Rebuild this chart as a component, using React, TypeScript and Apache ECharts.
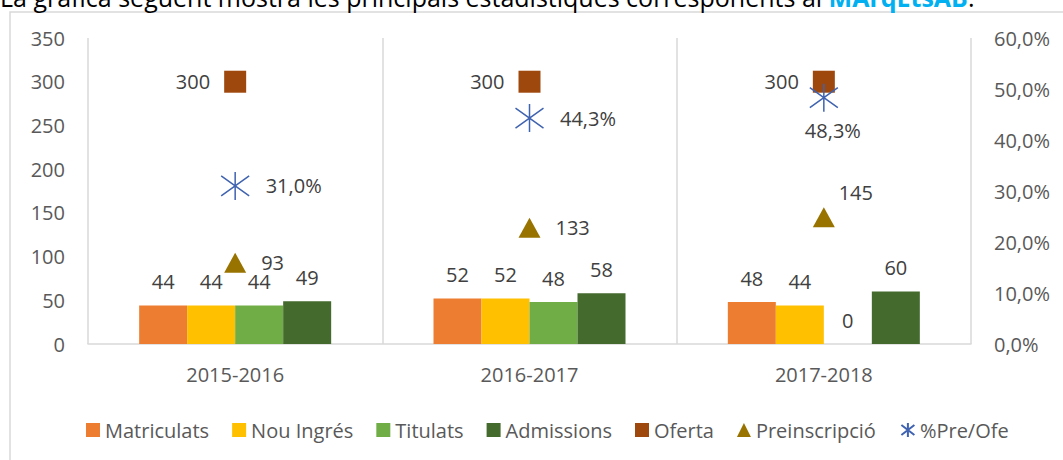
import React, { useEffect, useRef } from "react";
import * as echarts from "echarts";

const categories = ["2015-2016", "2016-2017", "2017-2018"];
const matriculats = [44, 52, 48];
const nouIngres = [44, 52, 44];
const titulats = [44, 48, 0];
const admissions = [49, 58, 60];
const oferta = [300, 300, 300];
const preinscripcio = [93, 133, 145];
const preOfe = [0.31, 0.443, 0.483];
const leftTicks = { min: 0, max: 350, interval: 50 };
const rightTicks = { min: 0, max: 0.6, interval: 0.1 };

const FONT = "'Open Sans', 'Noto Sans', sans-serif";
const LABEL_COLOR = "#404040";
const AXIS_COLOR = "#595959";
const STAR = "path://M14,0L14,28M1,4L27,24M27,4L1,24";

const pct = (v: number) => (v * 100).toFixed(1).replace(".", ",") + "%";

export default function App() {
  const ref = useRef<HTMLDivElement>(null);
  useEffect(() => {
    const chart = echarts.init(ref.current!, undefined, { renderer: "svg" });
    const barLabel = {
      show: true,
      position: "top",
      distance: 14,
      color: LABEL_COLOR,
      fontSize: 20,
      fontFamily: FONT,
    };
    const bar = (name: string, data: number[], color: string) => ({
      name,
      type: "bar",
      data,
      barWidth: 48,
      barGap: "0%",
      itemStyle: { color },
      label: barLabel,
    });
    chart.setOption({
      animation: false,
      backgroundColor: "#ffffff",
      textStyle: { fontFamily: FONT },
      graphic: [
        {
          type: "rect",
          shape: { x: 10, y: 12, width: 1070, height: 470 },
          style: { fill: "none", stroke: "#d9d9d9", lineWidth: 1.5 },
          silent: true,
        },
        {
          type: "text",
          left: 0,
          top: -16,
          style: {
            text: "{a|La gràfica següent mostra les principals estadístiques corresponents al }{b|MArqEtsAB}{a|.}",
            rich: {
              a: { fontSize: 25, fontFamily: FONT, fill: "#000000" },
              b: { fontSize: 25, fontFamily: FONT, fill: "#00B0F0", fontWeight: "bold" },
            },
          },
        },
      ],
      grid: { left: 88, right: 92, top: 38, bottom: 116, containLabel: false },
      legend: {
        left: 81,
        top: 415,
        itemWidth: 14,
        itemHeight: 14,
        itemGap: 23,
        textStyle: { color: AXIS_COLOR, fontSize: 20, fontFamily: FONT },
        data: [
          { name: "Matriculats", icon: "rect" },
          { name: "Nou Ingrés", icon: "rect" },
          { name: "Titulats", icon: "rect" },
          { name: "Admissions", icon: "rect" },
          { name: "Oferta", icon: "rect" },
          { name: "Preinscripció", icon: "triangle" },
          { name: "%Pre/Ofe" },
        ],
      },
      xAxis: {
        type: "category",
        data: categories,
        axisTick: { show: false },
        axisLine: { lineStyle: { color: "#d9d9d9", width: 1.5 } },
        axisLabel: { color: AXIS_COLOR, fontSize: 20, fontFamily: FONT, margin: 20 },
        splitLine: { show: true, lineStyle: { color: "#d9d9d9", width: 1.5 } },
      },
      yAxis: [
        {
          type: "value",
          ...leftTicks,
          axisLine: { show: false },
          axisTick: { show: false },
          splitLine: { show: false },
          axisLabel: { color: AXIS_COLOR, fontSize: 20, fontFamily: FONT, margin: 23 },
        },
        {
          type: "value",
          ...rightTicks,
          position: "right",
          axisLine: { show: false },
          axisTick: { show: false },
          splitLine: { show: false },
          axisLabel: {
            color: AXIS_COLOR,
            fontSize: 20,
            fontFamily: FONT,
            margin: 23,
            formatter: (v: number) => pct(v),
          },
        },
      ],
      series: [
        bar("Matriculats", matriculats, "#ED7D31"),
        bar("Nou Ingrés", nouIngres, "#FFC000"),
        bar("Titulats", titulats, "#70AD47"),
        bar("Admissions", admissions, "#446A2D"),
        {
          name: "Oferta",
          type: "scatter",
          symbol: "rect",
          symbolSize: 22,
          itemStyle: { color: "#9E480E", opacity: 1 },
          data: oferta,
          z: 5,
          label: {
            show: true,
            position: "left",
            distance: 14,
            color: LABEL_COLOR,
            fontSize: 20,
            fontFamily: FONT,
          },
        },
        {
          name: "Preinscripció",
          type: "scatter",
          symbol: "triangle",
          symbolSize: [22, 20],
          itemStyle: { color: "#997300", opacity: 1 },
          z: 5,
          data: preinscripcio.map((v, i) =>
            i === 2
              ? { value: v, label: { position: "top", distance: 5, offset: [32, 0] } }
              : { value: v }
          ),
          label: {
            show: true,
            position: "right",
            distance: 15,
            color: LABEL_COLOR,
            fontSize: 20,
            fontFamily: FONT,
          },
        },
        {
          name: "%Pre/Ofe",
          type: "scatter",
          yAxisIndex: 1,
          symbol: STAR,
          symbolSize: 28,
          z: 6,
          itemStyle: { color: "none", borderColor: "#3F63B0", borderWidth: 1.5, opacity: 1 },
          data: preOfe.map((v, i) =>
            i === 2
              ? { value: v, label: { position: "bottom", distance: 6, offset: [9, 0] } }
              : { value: v }
          ),
          label: {
            show: true,
            position: "right",
            distance: 14,
            color: LABEL_COLOR,
            fontSize: 20,
            fontFamily: FONT,
            formatter: (p: any) => pct(p.value),
          },
        },
      ],
    });
    return () => chart.dispose();
  }, []);
  return (
    <div
      ref={ref}
      style={{ position: "absolute", left: 0, top: 0, width: 1063, height: 460 }}
    />
  );
}
